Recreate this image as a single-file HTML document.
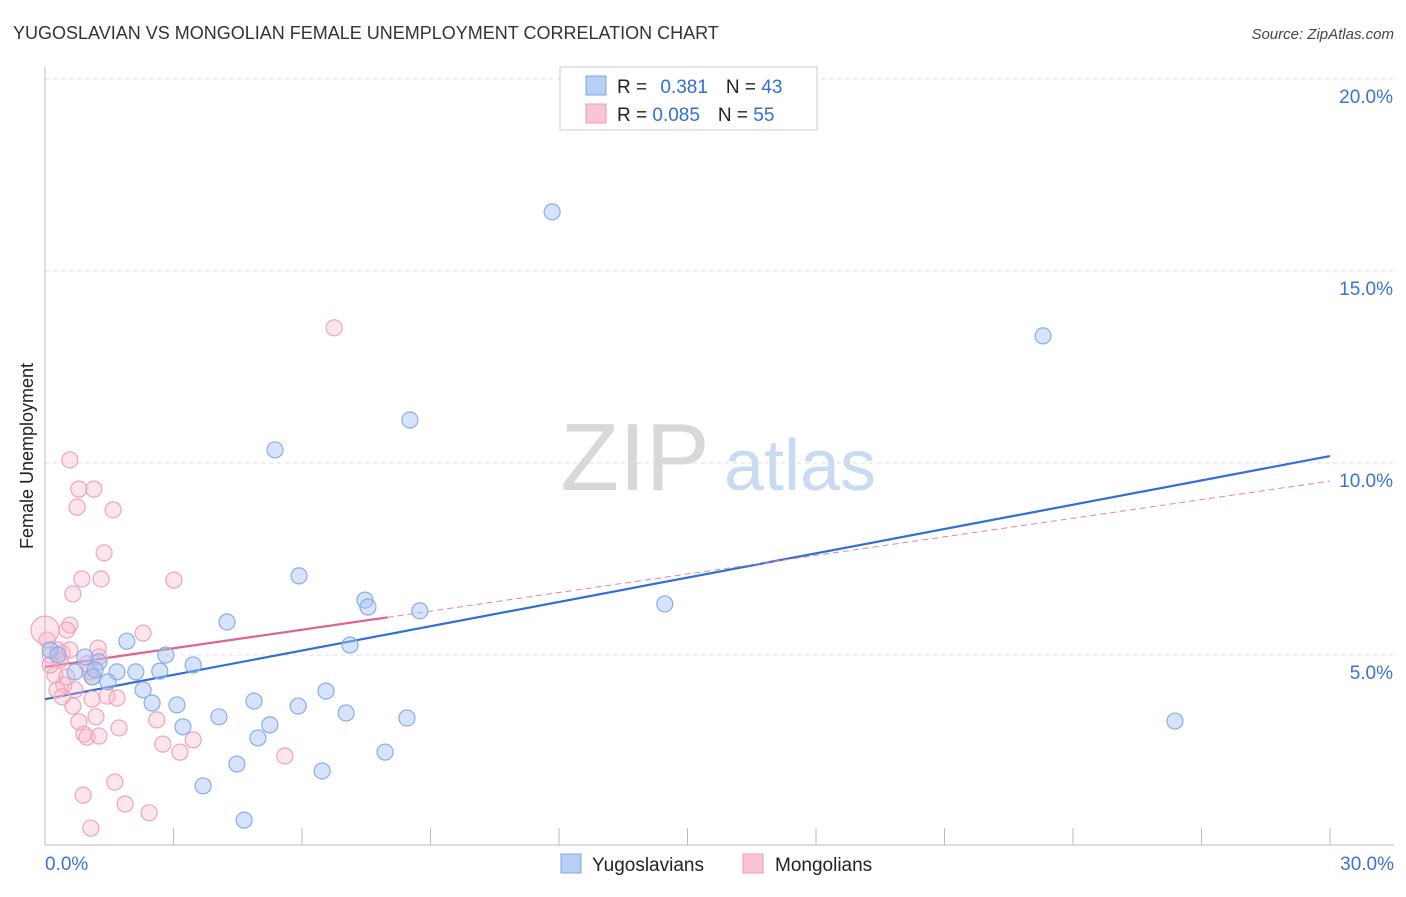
<!DOCTYPE html>
<html><head><meta charset="utf-8"><style>
body{margin:0;background:#fff;font-family:"Liberation Sans",sans-serif;}
svg text{font-family:"Liberation Sans",sans-serif;}
</style></head><body>
<svg id="chart" width="1406" height="892" viewBox="0 0 1406 892" xmlns="http://www.w3.org/2000/svg">
<text x="13" y="39" font-size="18" fill="#333">YUGOSLAVIAN VS MONGOLIAN FEMALE UNEMPLOYMENT CORRELATION CHART</text>
<text x="1394" y="39" font-size="15" fill="#444" text-anchor="end" font-style="italic">Source: ZipAtlas.com</text>
<text transform="translate(33,456) rotate(-90)" font-size="18" fill="#222" text-anchor="middle">Female Unemployment</text>
<g>
<text x="635" y="490" font-size="96" fill="#d8d8d8" font-family="Liberation Serif,serif" text-anchor="middle">ZIP</text>
<text x="800" y="490" font-size="72" fill="#c9dbf3" text-anchor="middle">atlas</text>
</g>
<g id="grid"></g>
<g id="axes"></g>
<g id="lines"></g>
<g id="pts"></g>
<g>
<rect x="560" y="67" width="257" height="63" fill="#fff" stroke="#ccc"/>
<rect x="586" y="76" width="20" height="19" fill="#b7cff3" stroke="#7fa6e0"/>
<rect x="586" y="104" width="20" height="19" fill="#f9c5d5" stroke="#ee9ab4"/>
<text x="617" y="93" font-size="19" fill="#222">R = <tspan fill="#2f6fd6" dx="8">0.381</tspan><tspan dx="18" fill="#222">N = </tspan><tspan fill="#2f6fd6">43</tspan></text>
<text x="617" y="121" font-size="19" fill="#222">R = <tspan fill="#2f6fd6">0.085</tspan><tspan dx="18" fill="#222">N = </tspan><tspan fill="#2f6fd6">55</tspan></text>
</g>
<g>
<rect x="561" y="854" width="20" height="19" fill="#b7cff3" stroke="#7fa6e0"/>
<text x="592" y="871" font-size="19" fill="#222">Yugoslavians</text>
<rect x="743" y="854" width="20" height="19" fill="#f9c5d5" stroke="#ee9ab4"/>
<text x="775" y="871" font-size="19" fill="#222">Mongolians</text>
</g>
</svg>
<script>
const yTicks=[5,10,15,20];
const xTickVals=[0,3,6,9,12,15,18,21,24,27,30];
const blueX=[11.84,23.30,8.52,5.37,5.93,14.47,7.47,7.54,8.75,4.25,1.91,7.12,2.82,3.46,1.26,2.68,2.12,1.68,0.70,1.47,1.10,2.29,6.56,4.88,3.08,2.50,5.91,7.03,4.06,8.45,26.38,3.22,5.25,4.97,7.94,4.48,6.47,3.69,4.65,0.12,0.30,0.93,1.17];
const blueY=[16.54,13.31,11.12,10.34,7.06,6.33,6.43,6.25,6.15,5.86,5.36,5.26,5.0,4.74,4.82,4.58,4.56,4.56,4.56,4.30,4.43,4.09,4.06,3.80,3.70,3.75,3.67,3.49,3.39,3.36,3.28,3.13,3.18,2.84,2.47,2.16,1.98,1.59,0.70,5.13,5.0,4.95,4.61];
const pinkX=[6.75,0.58,0.79,1.14,0.75,1.59,1.38,0.86,1.31,3.01,0.65,0.58,0.51,2.29,1.24,0.30,0.05,0.12,0.40,1.26,0.98,1.05,0.23,0.51,1.12,0.44,0.28,0.70,1.10,1.45,1.68,0.40,0.65,2.61,1.19,0.79,1.73,0.91,0.98,1.26,2.75,3.46,3.15,5.60,1.63,0.89,1.87,2.43,1.07,0,0.12,0.35,0.58];
const pinkY=[13.52,10.08,9.32,9.32,8.85,8.78,7.66,6.98,6.98,6.95,6.59,5.78,5.65,5.57,5.18,5.13,5.39,5.0,5.05,4.95,4.77,4.56,4.48,4.43,4.43,4.22,4.09,4.09,3.85,3.93,3.88,3.91,3.67,3.31,3.39,3.26,3.10,2.94,2.86,2.89,2.68,2.79,2.47,2.37,1.69,1.35,1.12,0.89,0.49,5.65,4.74,4.87,5.13];
const blueTrend=[3.85,10.18];
const pinkTrend=[4.69,9.53];
const pinkSolidEnd=8.0;

const NS="http://www.w3.org/2000/svg";
const X=v=>45+v/30*1285;
const Y=v=>847-v*38.4;
function mk(tag,attrs,parent){const e=document.createElementNS(NS,tag);for(const k in attrs)e.setAttribute(k,attrs[k]);parent.appendChild(e);return e;}
const grid=document.getElementById('grid'),axes=document.getElementById('axes'),lines=document.getElementById('lines'),pts=document.getElementById('pts');
yTicks.forEach(t=>{
  const l=mk('line',{x1:45,x2:1394,y1:Y(t),y2:Y(t),stroke:'#ddd','stroke-dasharray':'4,4'},grid);
  
  
  const tx=mk('text',{x:1393,y:Y(t)+24,'font-size':19,fill:'#3b73d1','text-anchor':'end'},axes);
  tx.textContent=t.toFixed(1)+'%';
  
  
});
mk('line',{x1:45,x2:45,y1:67,y2:845,stroke:'#bbb'},axes);
mk('line',{x1:45,x2:1394,y1:845,y2:845,stroke:'#bbb'},axes);
xTickVals.forEach(t=>{
  const l=mk('line',{x1:X(t),x2:X(t),y1:828,y2:845,stroke:'#bbb'},axes);
  
  
});
const xl0=mk('text',{x:45,y:870,'font-size':19,fill:'#3b73d1'},axes);xl0.textContent='0.0%';


const xl1=mk('text',{x:1394,y:870,'font-size':19,fill:'#3b73d1','text-anchor':'end'},axes);xl1.textContent='30.0%';



pinkX.forEach((x,i)=>{
  const c=mk('circle',{cx:X(x),cy:Y(pinkY[i]),r:(x===0?14:8),fill:'rgba(248,180,200,0.35)',stroke:'#f0a3bb','stroke-width':1.2},pts);
  
  
});
blueX.forEach((x,i)=>{
  const c=mk('circle',{cx:X(x),cy:Y(blueY[i]),r:8,fill:'rgba(164,194,244,0.45)',stroke:'#86aee8','stroke-width':1.2},pts);
  
  
});
const pAt=x=>pinkTrend[0]+(pinkTrend[1]-pinkTrend[0])*x/30;
const bl=mk('line',{x1:X(0),y1:Y(blueTrend[0]),x2:X(30),y2:Y(blueTrend[1]),stroke:'#2f6fd6','stroke-width':2.2},lines);


const pd=mk('line',{x1:X(pinkSolidEnd),y1:Y(pAt(pinkSolidEnd)),x2:X(30),y2:Y(pinkTrend[1]),stroke:'#e8819f','stroke-width':1,'stroke-dasharray':'6,4'},lines);


const ps=mk('line',{x1:X(0),y1:Y(pinkTrend[0]),x2:X(pinkSolidEnd),y2:Y(pAt(pinkSolidEnd)),stroke:'#e0628a','stroke-width':2.2},lines);


</script>
</body></html>
